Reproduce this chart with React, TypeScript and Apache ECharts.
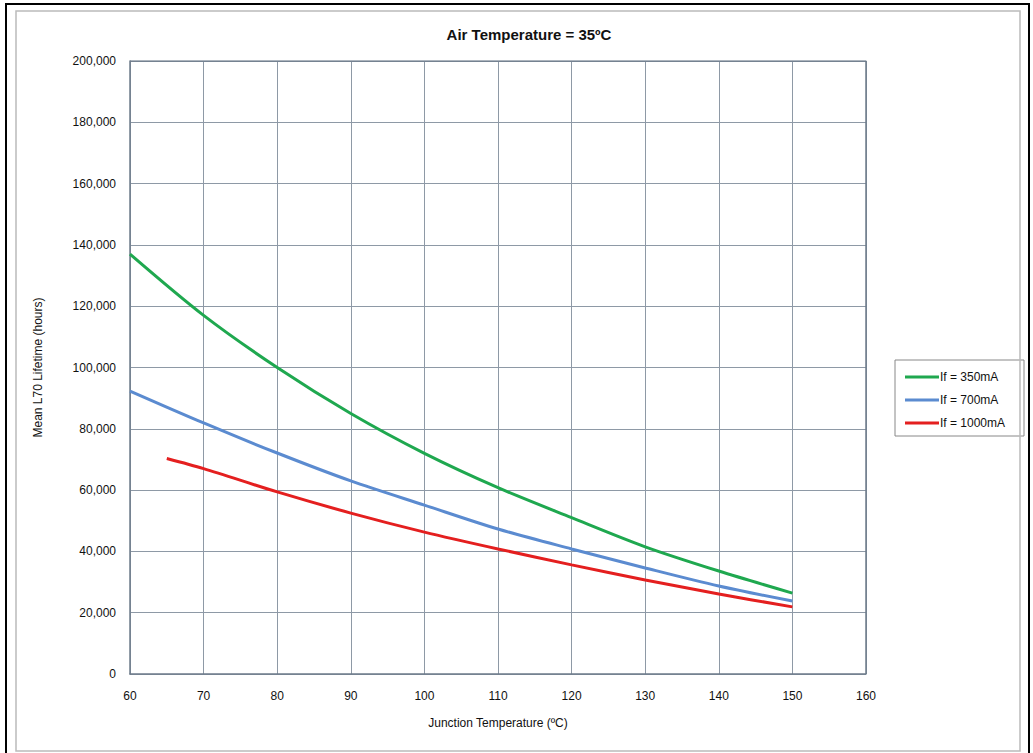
import React, { useEffect, useRef } from "react";
import * as echarts from "echarts";

const xTicks = [60, 70, 80, 90, 100, 110, 120, 130, 140, 150];
const if350 = [137000, 117000, 100000, 85000, 72000, 60800, 51000, 41500, 33600, 26400];
const if700 = [92300, 81900, 72100, 63000, 55100, 47300, 40800, 34600, 28700, 23800];
const if1000X = [65, 70, 80, 90, 100, 110, 120, 130, 140, 150];
const if1000 = [70300, 67000, 59400, 52500, 46300, 40800, 35600, 30700, 26100, 21900];

const seriesNames = ["If = 350mA", "If = 700mA", "If = 1000mA"];
const colors = ["#1fa84f", "#5b8bd0", "#e41f1f"];

export default function App() {
  const ref = useRef<HTMLDivElement>(null);
  useEffect(() => {
    const chart = echarts.init(ref.current!, null, { renderer: "svg" });
    const font = "Arial, 'Liberation Sans', sans-serif";
    const gridColor = "#8e99a6";
    const lineSeries = (name: string, xs: number[], ys: number[], color: string) => ({
      name,
      type: "line",
      smooth: 0.3,
      showSymbol: false,
      data: xs.map((x, i) => [x, ys[i]]),
      lineStyle: { color, width: 3 },
      itemStyle: { color },
    });
    chart.setOption({
      animation: false,
      backgroundColor: "#ffffff",
      title: {
        text: "Air Temperature = 35ºC",
        left: 524,
        textAlign: "center",
        top: 22,
        textStyle: { fontFamily: font, fontSize: 15, fontWeight: "bold", color: "#111" },
      },
      graphic: [
        { type: "rect", shape: { x: 6, y: 4, width: 1023, height: 752 }, style: { fill: "none", stroke: "#000", lineWidth: 2 }, silent: true },
        { type: "rect", shape: { x: 16, y: 11, width: 1004, height: 740 }, style: { fill: "none", stroke: "#bbbbbb", lineWidth: 1.5 }, silent: true },
        { type: "rect", shape: { x: 895, y: 360, width: 129, height: 76 }, style: { fill: "#fff", stroke: "#888", lineWidth: 1 }, silent: true, z: -1 },
      ],
      legend: {
        orient: "vertical",
        left: 900,
        top: 366,
        itemWidth: 34,
        itemHeight: 3,
        itemGap: 11,
        icon: "rect",
        data: seriesNames,
        textStyle: { fontFamily: font, fontSize: 12, color: "#111", padding: [0, 0, 0, -4] },
      },
      grid: { left: 130, right: 167, top: 61, bottom: 79 },
      xAxis: {
        type: "value",
        min: 60,
        max: 160,
        interval: 10,
        name: "Junction Temperature (ºC)",
        nameLocation: "middle",
        nameGap: 43,
        nameTextStyle: { fontFamily: font, fontSize: 12, color: "#111" },
        axisLine: { lineStyle: { color: "#6d7b8a", width: 1.5 } },
        axisTick: { show: false },
        axisLabel: { fontFamily: font, fontSize: 12, color: "#111", margin: 16 },
        splitLine: { show: true, lineStyle: { color: gridColor, width: 1 } },
      },
      yAxis: {
        type: "value",
        min: 0,
        max: 200000,
        interval: 20000,
        name: "Mean L70 Lifetime (hours)",
        nameLocation: "middle",
        nameGap: 86,
        nameTextStyle: { fontFamily: font, fontSize: 12, color: "#111" },
        axisLine: { show: true, lineStyle: { color: "#6d7b8a", width: 1.5 } },
        axisTick: { show: false },
        axisLabel: {
          fontFamily: font,
          fontSize: 12,
          color: "#111",
          margin: 14,
          formatter: (v: number) => v.toLocaleString("en-US"),
        },
        splitLine: { show: true, lineStyle: { color: gridColor, width: 1 } },
      },
      series: [
        lineSeries(seriesNames[0], xTicks, if350, colors[0]),
        lineSeries(seriesNames[1], xTicks, if700, colors[1]),
        lineSeries(seriesNames[2], if1000X, if1000, colors[2]),
        {
          type: "line",
          silent: true,
          showSymbol: false,
          data: [[60, 200000], [160, 200000], [160, 0]],
          lineStyle: { color: "#6d7b8a", width: 1.5 },
          tooltip: { show: false },
        },
      ],
    });
    return () => chart.dispose();
  }, []);
  return (
    <div
      ref={ref}
      style={{ position: "fixed", left: 0, top: 0, width: 1033, height: 753 }}
    />
  );
}
